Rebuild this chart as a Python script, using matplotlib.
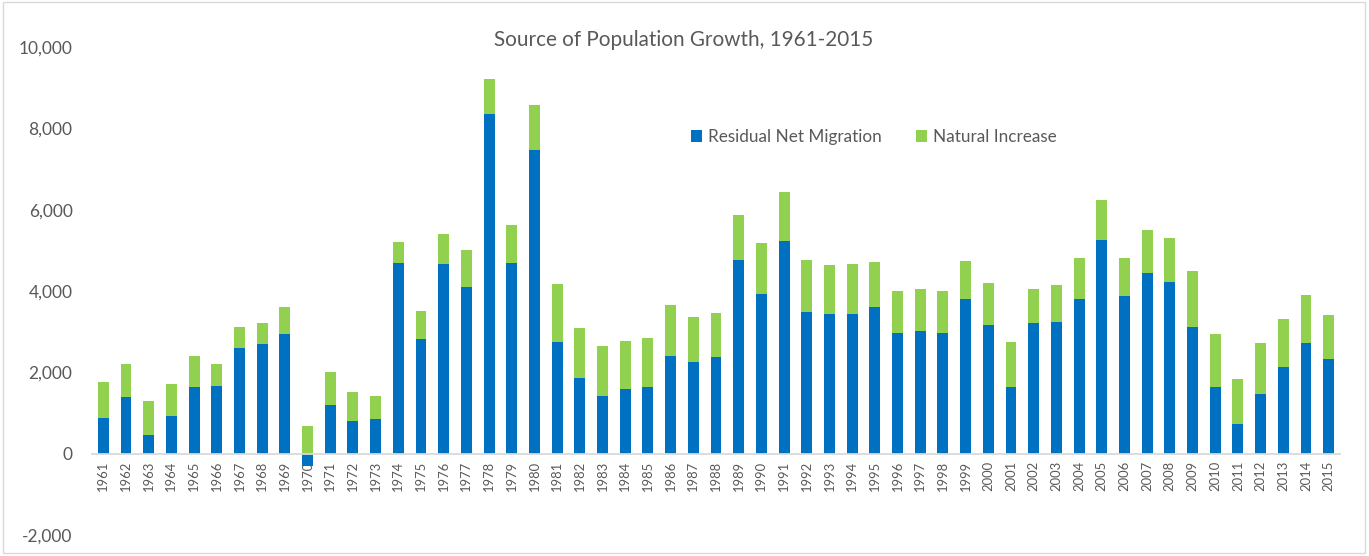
"""
Source of Population Growth, 1961-2015 (stacked bar chart)
"""
import matplotlib
matplotlib.use("Agg")
import matplotlib.pyplot as plt
import matplotlib.ticker as mticker
import numpy as np

# --------------------------------------------------------------------------- #
# data
# --------------------------------------------------------------------------- #
years = list(range(1961, 2016))

net_migration = [
    881, 1382, 455, 930, 1636, 1661, 2588, 2686, 2940, -307,
    1200, 807, 841, 4686, 2824, 4669, 4096, 8344, 4686, 7459,
    2743, 1865, 1415, 1587, 1644, 2399, 2259, 2382, 4768, 3932,
    5228, 3474, 3440, 3424, 3596, 2956, 3006, 2964, 3801, 3169,
    1644, 3202, 3227, 3809, 5260, 3875, 4432, 4211, 3120, 1636,
    734, 1472, 2136, 2727, 2325,
]

natural_increase = [
    870, 820, 844, 772, 763, 541, 516, 517, 671, 676,
    812, 698, 566, 517, 682, 738, 910, 869, 928, 1114,
    1419, 1230, 1222, 1181, 1197, 1247, 1099, 1082, 1107, 1254,
    1205, 1294, 1197, 1238, 1115, 1042, 1033, 1034, 942, 1025,
    1107, 845, 910, 1000, 976, 926, 1066, 1082, 1370, 1304,
    1107, 1239, 1173, 1180, 1090,
]

y_ticks = [-2000, 0, 2000, 4000, 6000, 8000, 10000]

BLUE = "#0070c0"
GREEN = "#92d050"
TEXT = "#595959"
AXIS = "#d9d9d9"

plt.rcParams["font.family"] = ["Lato", "DejaVu Sans"]
plt.rcParams["axes.unicode_minus"] = False

# --------------------------------------------------------------------------- #
# plot
# --------------------------------------------------------------------------- #
fig = plt.figure(figsize=(13.69, 5.56), dpi=100)
ax = fig.add_axes([92 / 1369, 21 / 556, 1248 / 1369, 488 / 556])

x = np.arange(len(years))
mig = np.array(net_migration)
nat = np.array(natural_increase)
# positive values stack from zero, negative ones hang below it (Excel style)
nat_bottom = np.where(mig > 0, mig, 0)

ax.bar(x, mig, width=0.48, color=BLUE, label="Residual Net Migration", zorder=2)
ax.bar(x, nat, width=0.48, bottom=nat_bottom, color=GREEN,
       label="Natural Increase", zorder=2)

for side in ("top", "right", "left"):
    ax.spines[side].set_visible(False)
# spine position first: it resets the tick styling
ax.spines["bottom"].set_position(("data", 0))
ax.spines["bottom"].set_color(AXIS)
ax.spines["bottom"].set_linewidth(1.3)

ax.set_xlim(-0.5, len(years) - 0.5)
ax.set_ylim(-2000, 10000)
ax.set_yticks(y_ticks)
ax.yaxis.set_major_formatter(mticker.StrMethodFormatter("{x:,.0f}"))
ax.set_xticks(x)
ax.set_xticklabels([str(y) for y in years])

ax.tick_params(axis="x", length=0, pad=5, labelsize=9.4, labelcolor=TEXT,
               labelrotation=90)
ax.tick_params(axis="y", length=0, pad=14, labelsize=12.5, labelcolor=TEXT)

fig.text(684 / 1369, 1 - 40 / 556, "Source of Population Growth, 1961-2015",
         ha="center", va="center", fontsize=14.9, color=TEXT)

ax.legend(loc="center left", bbox_to_anchor=(592 / 1248, (535 - 137) / 488),
          ncol=2, frameon=False, fontsize=12.3, labelcolor=TEXT,
          handlelength=0.65, handleheight=0.65, handletextpad=0.35,
          columnspacing=2.0, borderaxespad=0)

# light frame round the whole chart
fig.patches.append(plt.Rectangle((3 / 1369, 3 / 556), 1362 / 1369, 551 / 556,
                                 transform=fig.transFigure, fill=False,
                                 edgecolor=AXIS, linewidth=1))

fig.savefig("out.png", dpi=100)
